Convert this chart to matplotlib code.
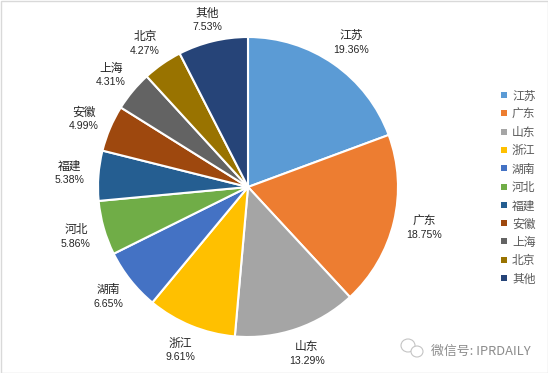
import matplotlib
matplotlib.use('Agg')
import matplotlib.pyplot as plt
from matplotlib.patches import Rectangle, Ellipse

plt.rcParams['font.family'] = ['Noto Sans CJK SC', 'DejaVu Sans']

categories = ['江苏', '广东', '山东', '浙江', '湖南', '河北', '福建', '安徽', '上海', '北京', '其他']
values = [19.36, 18.75, 13.29, 9.61, 6.65, 5.86, 5.38, 4.99, 4.31, 4.27, 7.53]
colors = ['#5B9BD5', '#ED7D31', '#A5A5A5', '#FFC000', '#4472C4', '#70AD47',
          '#255E91', '#9E480E', '#636363', '#997300', '#264478']

W, H = 548, 373
fig = plt.figure(figsize=(W/100, H/100), dpi=100, facecolor='white')
cx, cy, r = 248, 187, 150
ax = fig.add_axes([(cx-r)/W, 1-(cy+r)/H, 2*r/W, 2*r/H])
ax.pie(values, colors=colors, startangle=90, counterclock=False, radius=1,
       wedgeprops=dict(edgecolor='white', linewidth=1.5))
ax.set_xlim(-1, 1); ax.set_ylim(-1, 1)
ax.set_aspect('equal')

# label x, name y, percent y (pixels from the top)
px = [(351, 34, 49), (424, 220, 234), (307, 345, 360), (180, 342, 356), (108, 288, 303),
      (76, 228, 243), (70, 165, 179), (84, 111, 125), (111, 67, 81), (145, 35, 50), (207, 12, 26)]
for c, v, (x, y1, y2) in zip(categories, values, px):
    fig.text(x/W, 1-(y1+1.5)/H, c, ha='center', va='center', fontsize=8.5, color='#262626')
    fig.text(x/W, 1-(y2+1)/H, f'{v:.2f}%', ha='center', va='center', fontsize=7.6, color='#262626', family='Liberation Sans')

ly0, dy = 95, 18.3
for i, (c, col) in enumerate(zip(categories, colors)):
    y = ly0 + i*dy
    fig.add_artist(Rectangle((501/W, 1-(y+3)/H), 6/W, 6/H, transform=fig.transFigure, facecolor=col, edgecolor='none'))
    fig.text(512/W, 1-(y+1)/H, c, ha='left', va='center', fontsize=8.5, color='#595959')

fig.add_artist(Rectangle((0.5/W, 0.5/H), (W-1)/W, (H-1)/H, transform=fig.transFigure, fill=False, edgecolor='#D9D9D9', linewidth=1))
for (ex, ey, ew, eh) in [(408, 345.5, 14, 13), (417, 351.5, 12, 11)]:
    fig.add_artist(Ellipse((ex/W, 1-ey/H), ew/W, eh/H, transform=fig.transFigure, facecolor='white', edgecolor='#C4C4C4', linewidth=0.8))
fig.text(431/W, 1-351/H, '微信号: IPRDAILY', ha='left', va='center', fontsize=9.3, color='#8C8C8C')
fig.savefig('out.png', dpi=100)
